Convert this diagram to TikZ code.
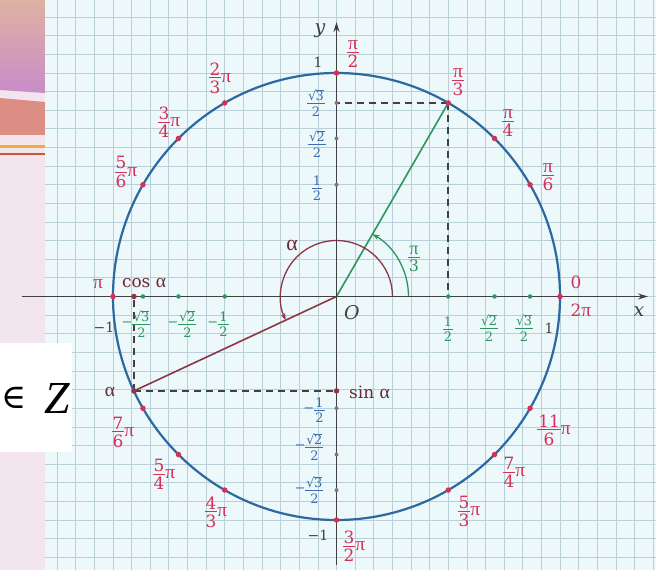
\documentclass[tikz,border=0pt]{standalone}
\usepackage{fontspec}
\setmainfont{DejaVu Serif}
\newfontfamily\tm[Scale=1.15]{Liberation Serif}
\newfontfamily\tmz{Liberation Serif}
\usetikzlibrary{arrows.meta}
\definecolor{circblue}{RGB}{45,105,160}
\definecolor{angred}{RGB}{212,48,88}
\definecolor{tgreen}{RGB}{45,150,95}
\definecolor{maroonc}{RGB}{140,55,70}
\definecolor{ylab}{RGB}{60,110,175}
\definecolor{axisc}{RGB}{65,65,65}
\definecolor{gridbg}{RGB}{236,248,250}
\definecolor{gridln}{RGB}{185,208,216}
\definecolor{stripc}{RGB}{243,229,238}
\definecolor{peach}{RGB}{222,178,162}
\definecolor{purp}{RGB}{200,140,200}
\definecolor{salmonc}{RGB}{220,142,132}
\definecolor{orangeA}{RGB}{245,170,50}
\definecolor{orangeB}{RGB}{200,90,50}
\newcommand\PI{{\tm π}}
\newcommand\AL{{\tm α}}
\newcommand\fr[2]{$\vcenter{\offinterlineskip\halign{\hfil\kern1pt##\kern1pt\hfil\cr
  \vrule height.74em depth0pt width0pt #1\cr
  \noalign{\kern2.3pt\hrule height.9pt\kern2.3pt}
  \vrule height.74em depth0pt width0pt #2\cr}}$}
\newcommand\sq[1]{√\kern-.04em\vbox{\hrule height .07em\kern.5pt\hbox{#1}}}
\begin{document}
\begin{tikzpicture}[x=1bp,y=1bp,
  redlab/.style={text=angred, font=\fontsize{17}{17}\selectfont, inner sep=0pt},
  ylabs/.style={text=ylab, font=\fontsize{13}{13}\selectfont, inner sep=0pt},
  xlabs/.style={text=tgreen, font=\fontsize{13}{13}\selectfont, inner sep=0pt},
  darklab/.style={text=axisc, font=\fontsize{14}{14}\selectfont, inner sep=0pt},
  maroonlab/.style={text=maroonc!75!black, font=\fontsize{17}{17}\selectfont, inner sep=0pt},
  reddot/.style={circle, fill=angred, inner sep=0pt, minimum size=5.5bp},
  mdot/.style={circle, fill=maroonc, inner sep=0pt, minimum size=5.5bp},
  gdot/.style={circle, fill=tgreen, inner sep=0pt, minimum size=4.5bp},
  ydot/.style={circle, fill=axisc!70, inner sep=0pt, minimum size=4bp},
  axisline/.style={axisc, line width=1.8bp, -{Stealth[length=10bp,width=6bp]}},
  dashline/.style={axisc, line width=1.6bp, dash pattern=on 7bp off 5bp},
  circline/.style={circblue, line width=2.2bp},
]
\useasboundingbox (-336.5,-273.5) rectangle (319.5,296.5);
% left slide strip
\fill[stripc] (-336.5,-273.5) rectangle (-291.5,296.5);
\shade[top color=peach, bottom color=purp] (-336.5,296.5) -- (-291.5,296.5) -- (-291.5,203.5) -- (-336.5,206.5) -- cycle;
\fill[salmonc] (-336.5,198.5) -- (-291.5,194.5) -- (-291.5,161.5) -- (-336.5,161.5) -- cycle;
\draw[orangeA, line width=2.2bp] (-336.5,150) -- (-291.5,150);
\draw[orangeB, line width=2.2bp] (-336.5,142.2) -- (-291.5,142.2);
% grid paper
\fill[gridbg] (-291.5,-273.5) rectangle (319.5,296.5);
\begin{scope}
\clip (-291.5,-273.5) rectangle (319.5,296.5);
\draw[gridln, line width=0.75bp, step=18.625] (-300,-280) grid (320,300);
\end{scope}
% white box
\fill[white] (-336.5,-46.5) rectangle (-264.5,-155.5);
\node[anchor=east, inner sep=0pt, font=\fontsize{46}{46}\selectfont\tmz\itshape] (zz) at (-266.5,-101.5) {Z};
\node[anchor=west, inner sep=0pt, font=\fontsize{34}{34}\selectfont] (inn) at (-335,-101.5) {∈};
% coordinates
\coordinate (O) at (0,0);
\coordinate (A) at (60:223.5);
\coordinate (B) at (205:223.5);
\coordinate (xs) at (-314.5,0);
\coordinate (xe) at (311.5,0);
\coordinate (ys) at (0,-268.5);
\coordinate (ye) at (0,274.5);
% dashed projections
\draw[dashline] (A) -- (A |- O);
\draw[dashline] (A) -- (A -| O);
\draw[dashline] (B) -- (B |- O);
\draw[dashline] (B) -- (B -| O);
% radii
\draw[tgreen, line width=1.6bp] (O) -- (A);
\draw[maroonc, line width=1.6bp] (O) -- (B);
% arcs
\draw[maroonc, line width=1.3bp, -{Stealth[length=7bp,width=5bp]}] (56,0) arc[start angle=0, end angle=205, radius=56];
\draw[tgreen, line width=1.3bp, -{Stealth[length=7bp,width=5bp]}] (72,0) arc[start angle=0, end angle=60, radius=72];
% circle
\draw[circline] (O) circle[radius=223.5];
% axes
\draw[axisline] (xs) -- (xe);
\draw[axisline] (ys) -- (ye);
% dots on circle
\foreach \a in {0,30,45,60,90,120,135,150,180,210,225,240,270,300,315,330}
  \node[reddot] (p\a) at (\a:223.5) {};
\node[mdot] (pB) at (B) {};
\node[mdot] (cB) at (B |- O) {};
\node[mdot] (sB) at (B -| O) {};
% ticks
\foreach \v/\n in {111.75/a,158.04/b,193.56/c} {
  \node[gdot] (xp\n) at (\v,0) {};
  \node[gdot] (xm\n) at (-\v,0) {};
  \node[ydot] (yp\n) at (0,\v) {};
  \node[ydot] (ym\n) at (0,-\v) {};
}
% angle labels
\node[redlab] (l90) at (16.5,244.5) {\fr{\PI}{2}};
\node[redlab] (l60) at (121.5,216.5) {\fr{\PI}{3}};
\node[redlab] (l45) at (171.5,175.5) {\fr{\PI}{4}};
\node[redlab] (l30) at (211.5,121.5) {\fr{\PI}{6}};
\node[redlab] (l0) at (239.5,14.5) {0};
\node[redlab] (l360) at (244.5,-13.5) {2\PI};
\node[redlab] (l120) at (-116.5,218.5) {\fr{2}{3}\PI};
\node[redlab] (l135) at (-167.5,174.5) {\fr{3}{4}\PI};
\node[redlab] (l150) at (-210.5,124.5) {\fr{5}{6}\PI};
\node[redlab] (l180) at (-238.5,12.5) {\PI};
\node[redlab] (l210) at (-213.5,-135.5) {\fr{7}{6}\PI};
\node[redlab] (l225) at (-172.5,-177.5) {\fr{5}{4}\PI};
\node[redlab] (l240) at (-120.5,-215.5) {\fr{4}{3}\PI};
\node[redlab] (l270) at (17.5,-249.5) {\fr{3}{2}\PI};
\node[redlab] (l300) at (132.5,-214.5) {\fr{5}{3}\PI};
\node[redlab] (l315) at (177.5,-175.5) {\fr{7}{4}\PI};
\node[redlab] (l330) at (217.5,-133.5) {\fr{11}{6}\PI};
% y axis labels
\node[darklab] (y1) at (-18.5,234.5) {1};
\node[ylabs] (y3) at (-20.5,193.5) {\fr{\sq{3}}{2}};
\node[ylabs] (y2) at (-19.5,152.5) {\fr{\sq{2}}{2}};
\node[ylabs] (yh) at (-19.5,108.5) {\fr{1}{2}};
\node[ylabs] (ymh) at (-22.5,-113.5) {−\fr{1}{2}};
\node[ylabs] (ym2) at (-27.5,-150.5) {−\fr{\sq{2}}{2}};
\node[ylabs] (ym3) at (-27.5,-193.5) {−\fr{\sq{3}}{2}};
\node[darklab] (ym1) at (-18.5,-238.5) {−1};
% x axis labels
\node[darklab] (xm1) at (-232.5,-30.5) {−1};
\node[xlabs] (xm3) at (-200.5,-27.5) {−\fr{\sq{3}}{2}};
\node[xlabs] (xm2) at (-154.5,-27.5) {−\fr{\sq{2}}{2}};
\node[xlabs] (xmh) at (-118.5,-27.5) {−\fr{1}{2}};
\node[xlabs] (xh) at (111.5,-32.5) {\fr{1}{2}};
\node[xlabs] (x2) at (152.5,-31.5) {\fr{\sq{2}}{2}};
\node[xlabs] (x3) at (187.5,-31.5) {\fr{\sq{3}}{2}};
\node[darklab] (x1) at (212.5,-31.5) {1};
% axis names
\node[darklab, font=\fontsize{19}{19}\selectfont\itshape] (ylbl) at (-16.5,265.5) {y};
\node[darklab, font=\fontsize{19}{19}\selectfont\itshape] (xlbl) at (302.5,-15.5) {x};
\node[darklab, font=\fontsize{19}{19}\selectfont\itshape] (Olbl) at (15.5,-16.5) {O};
% alpha labels
\node[maroonlab, font=\fontsize{19}{19}\selectfont] (alab) at (-44.5,51.5) {\AL};
\node[text=tgreen, font=\fontsize{16}{16}\selectfont, inner sep=0pt] (plab) at (77.5,39.5) {\fr{\PI}{3}};
\node[maroonlab] (cosl) at (-192.5,13.5) {cos \AL};
\node[maroonlab, anchor=west] (sinl) at (12.5,-95.5) {sin \AL};
\node[maroonlab] (bl) at (-226.5,-95.5) {\AL};
\end{tikzpicture}
\end{document}
